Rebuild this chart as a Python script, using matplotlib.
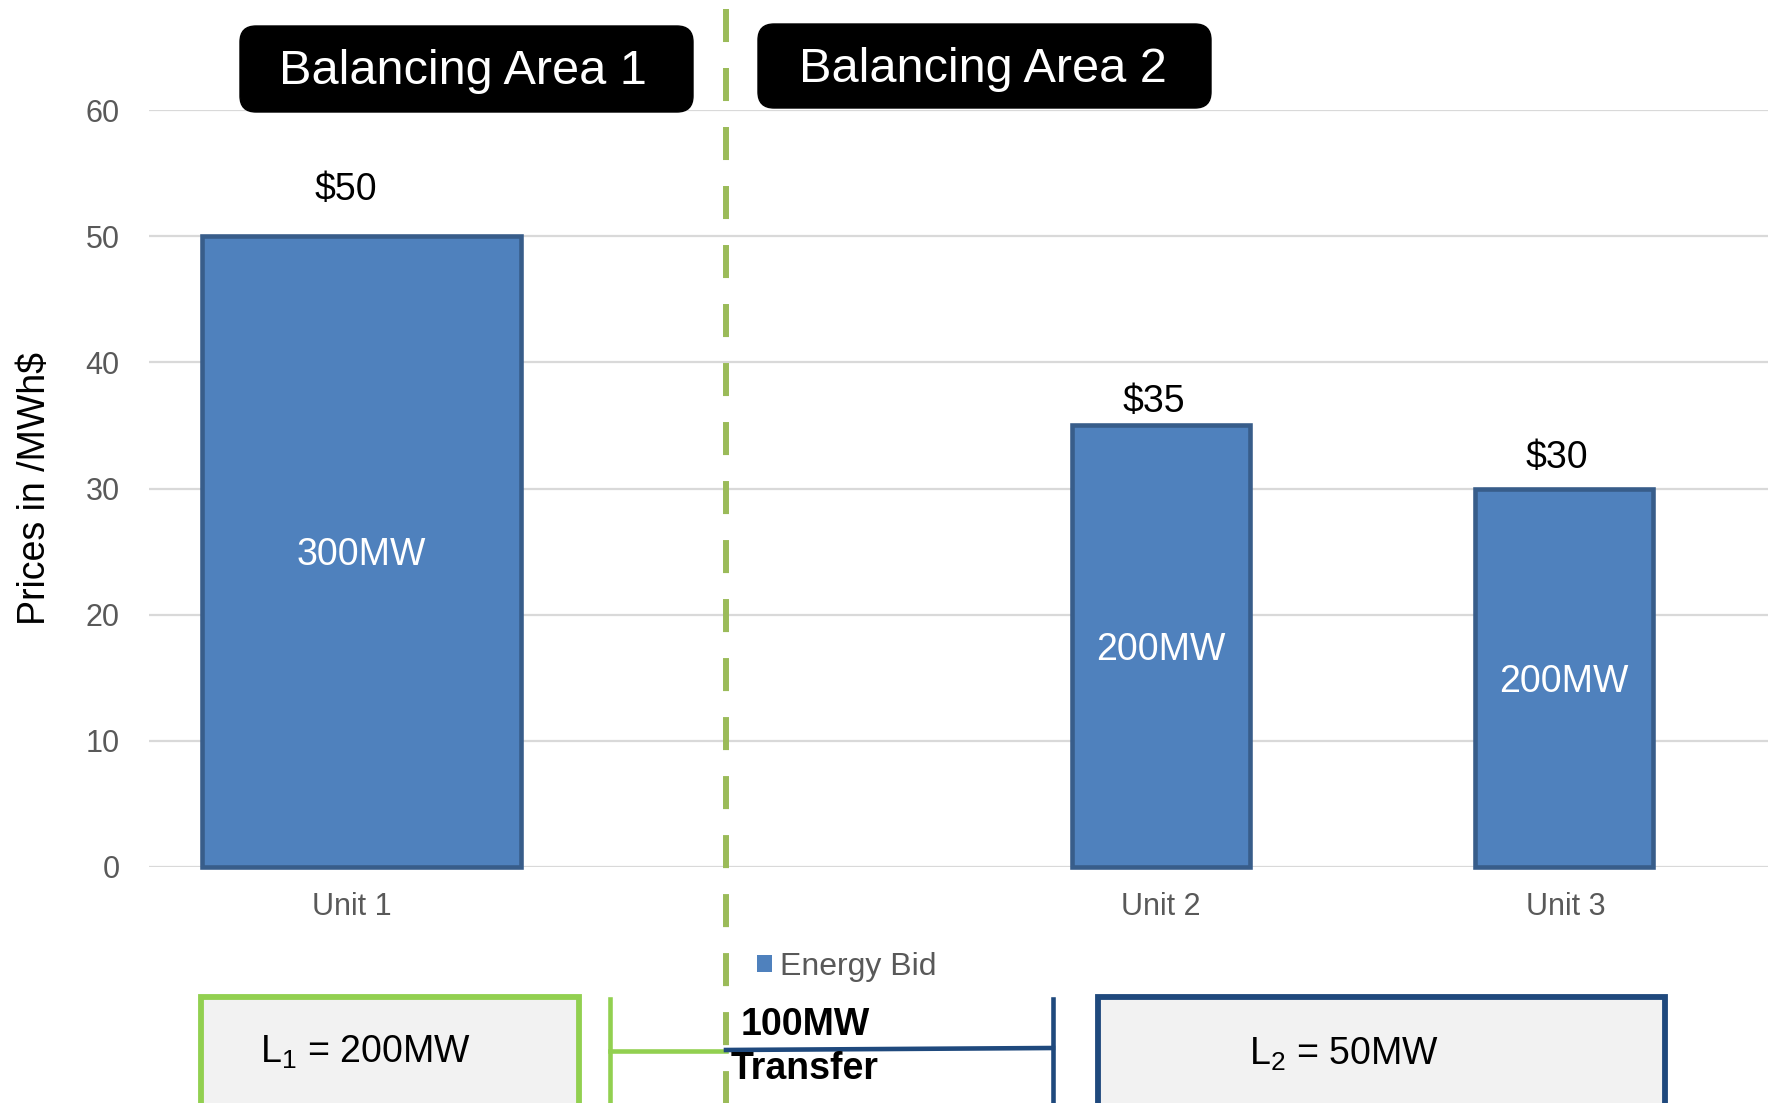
import matplotlib
matplotlib.use("Agg")
import matplotlib.pyplot as plt
from matplotlib.patches import FancyBboxPatch, Rectangle, Patch
from matplotlib.lines import Line2D
from matplotlib.transforms import IdentityTransform

plt.rcParams['font.family'] = 'Liberation Sans'
plt.rcParams['mathtext.fontset'] = 'custom'
plt.rcParams['mathtext.rm'] = 'Liberation Sans'
plt.rcParams['mathtext.default'] = 'regular'

# energy bids per unit
units = ['Unit 1', 'Unit 2', 'Unit 3']
unit_slot = [0, 2, 3]            # slot 1 left empty between the two areas
prices = [50, 35, 30]            # $/MWh
capacity_mw = [300, 200, 200]
bar_widths = [0.79, 0.44, 0.44]
bar_shift = [0.025, 0.0, -0.005]
price_ticks = [0, 10, 20, 30, 40, 50, 60]

areas = ['Balancing Area 1', 'Balancing Area 2']
loads_mw = [200, 50]
transfer_mw = 100

BAR = '#4f81bd'
BAR_EDGE = '#385d8a'
GREEN = '#92d050'
OLIVE = '#9bbb59'
NAVY = '#1f497d'
GREY_TXT = '#595959'

W, H = 1772, 1103
fig = plt.figure(figsize=(W / 100, H / 100), dpi=100)
ax = fig.add_axes([149 / W, 1 - 867 / H, 1619 / W, 757 / H])

bar_x = [s + d for s, d in zip(unit_slot, bar_shift)]
bars = ax.bar(bar_x, prices, width=bar_widths, color=BAR,
              edgecolor=BAR_EDGE, linewidth=3.3, zorder=3, clip_on=False)

# price above each bar, capacity in the middle
lifts = [(-11, 33), (-5, 17), (-5, 22)]
for b, p, mw, (dx, dy) in zip(bars, prices, capacity_mw, lifts):
    cx = b.get_x() + b.get_width() / 2
    ax.annotate(f'${p}', (cx, p), xytext=(dx, dy), textcoords='offset points',
                ha='center', va='center', fontsize=27, color='black')
    ax.text(cx, p / 2 - 0.3, f'{mw}MW', ha='center', va='center',
            fontsize=27, color='white', zorder=4)

ax.set_xlim(-0.5, 3.5)
ax.set_ylim(0, 60)
ax.set_yticks(price_ticks)
ax.set_xticks(unit_slot)
ax.set_xticklabels(units)
ax.yaxis.grid(True, color='#d9d9d9', linewidth=1.6)
ax.set_axisbelow(True)
for s in ax.spines.values():
    s.set_visible(False)
ax.tick_params(axis='y', length=0, pad=21, labelsize=22, labelcolor=GREY_TXT)
ax.tick_params(axis='x', length=0, pad=18, labelsize=22, labelcolor=GREY_TXT)
ax.set_ylabel('Prices in /MWh$', fontsize=27, color='black')
ax.yaxis.set_label_coords(-0.059, 0.5)


def px_rect(x0, y0, x1, y1, cls=Rectangle, **kw):
    # pixel box, y measured from the top of the figure
    if cls is FancyBboxPatch:
        p = FancyBboxPatch((x0, H - y1), x1 - x0, y1 - y0, transform=IdentityTransform(), **kw)
    else:
        p = Rectangle((x0, H - y1), x1 - x0, y1 - y0, transform=IdentityTransform(), **kw)
    fig.add_artist(p)
    return p


def px_line(xs, ys, **kw):
    ln = Line2D(xs, [H - y for y in ys], transform=IdentityTransform(), **kw)
    fig.add_artist(ln)
    return ln


def px_text(x, y, s, **kw):
    fig.text(x / W, 1 - y / H, s, ha='center', va='center', **kw)


# area headers
header_boxes = [(240, 26, 693, 112), (758, 24, 1211, 108)]
header_centers = [(463, 71), (983, 69)]
for name, bx, c in zip(areas, header_boxes, header_centers):
    px_rect(*bx, cls=FancyBboxPatch, boxstyle='round,pad=0,rounding_size=16',
            facecolor='black', edgecolor='black', zorder=6)
    px_text(*c, name, fontsize=35, color='white', zorder=7)

# boundary between the areas
px_line([725.6, 725.6], [9, H], color=OLIVE, linewidth=4.3,
        dashes=(5.53, 4.35), zorder=5)

# loads and the transfer link
px_rect(201, 997, 579, H + 20, facecolor='#f2f2f2', edgecolor=GREEN, linewidth=4.2, zorder=5)
px_rect(1098, 997, 1665, H + 20, facecolor='#f2f2f2', edgecolor=NAVY, linewidth=4.2, zorder=5)
px_text(365, 1052, f'L$_1$ = {loads_mw[0]}MW', fontsize=27, color='black', zorder=7)
px_text(1344, 1054, f'L$_2$ = {loads_mw[1]}MW', fontsize=27, color='black', zorder=7)

px_line([610, 610], [999, H], color=GREEN, linewidth=3.3, zorder=5)
px_line([610, 726], [1051, 1051], color=GREEN, linewidth=3.3, zorder=5)
px_line([726, 1053], [1050, 1048], color=NAVY, linewidth=3.3, zorder=5)
px_line([1053, 1053], [999, H], color=NAVY, linewidth=3.3, zorder=5)
px_text(805, 1025, f'{transfer_mw}MW', fontsize=27, fontweight='bold', color='black', zorder=7)
px_text(805, 1069, 'Transfer', fontsize=27, fontweight='bold', color='black', zorder=7)

fig.legend(handles=[Patch(facecolor=BAR, label='Energy Bid')], loc='center left',
           bbox_to_anchor=(757 / W, 1 - 967 / H), frameon=False, fontsize=23,
           labelcolor=GREY_TXT, handlelength=0.47, handleheight=0.47,
           handletextpad=0.25, borderpad=0, borderaxespad=0)

fig.savefig('out.png', dpi=100)
